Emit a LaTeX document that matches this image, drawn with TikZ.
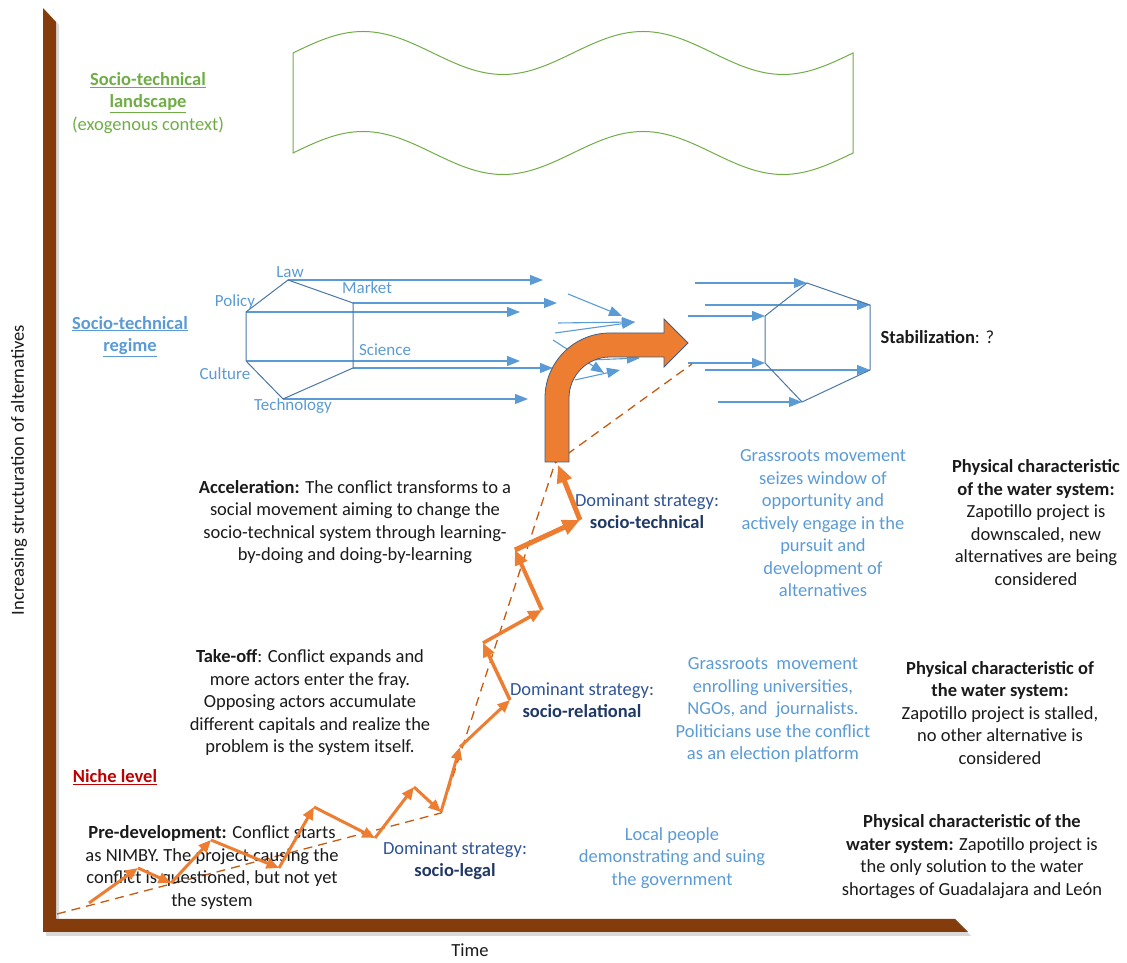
\documentclass[tikz,border=0pt]{standalone}
\usepackage{fontspec}
\setmainfont{Carlito}
\usepackage{tikz}
\usetikzlibrary{arrows.meta,positioning,calc}
\definecolor{axisbrown}{HTML}{843C0C}
\definecolor{landgreen}{HTML}{70AD47}
\definecolor{regblue}{HTML}{5B9BD5}
\definecolor{hexblue}{HTML}{4A76A8}
\definecolor{shiftorange}{HTML}{ED7D31}
\definecolor{trendorange}{HTML}{C55A11}
\definecolor{stratblue}{HTML}{2F5496}
\definecolor{stratdark}{HTML}{1F3864}
\definecolor{nichered}{HTML}{C00000}
\definecolor{bodytext}{HTML}{1A1A1A}
\tikzset{
    axis bar/.style={fill=axisbrown},
    axis shadow/.style={fill=black,opacity=.15},
    landscape color/.style={text=landgreen},
    regime color/.style={text=regblue},
    landscape line/.style={draw=landgreen,line width=1pt},
    hexline/.style={draw=hexblue,line width=1pt},
    regarr/.style={draw=regblue,line width=1.1pt,-{Triangle[length=13pt,width=10pt]}},
    zig/.style={draw=shiftorange,line width=#1,-{Triangle[length=5pt 2.5,width=4pt 2.2]}},
    zig/.default=3pt,
    trend/.style={draw=trendorange,line width=1.3pt,dash pattern=on 9pt off 6pt},
    bent arrow/.style={fill=shiftorange,draw=hexblue!80!black,line width=.8pt},
    body text/.style={align=center,text=bodytext},
    strategy/.style={align=center,text=stratblue},
    actor text/.style={align=center,text=regblue},
    vertex label/.style={text=regblue,font=\fontsize{17}{19}\selectfont},
}
\tikzstyle{every node}=[font=\fontsize{18.5}{22.5}\selectfont]

\begin{document}
\begin{tikzpicture}[x=1pt,y=1pt]
    \useasboundingbox (0,0) rectangle (1127,963);

    % axes
    \fill[axis shadow] (46,27) -- (46,952) -- (59,938) -- (59,40) -- (958,40) -- (971,27) -- cycle;
    \fill[axis bar] (43,31) -- (43,955) -- (56,941) -- (56,44) -- (955,44) -- (968,31) -- cycle;
    \node[rotate=90,text=bodytext] (ylabel) at (19,493) {Increasing structuration of alternatives};
    \node[text=bodytext] (timelabel) at (470,13) {Time};

    % landscape
    \draw[landscape line] (293,910) sin (363,931.5) cos (433,910) sin (503,888.5) cos (573,910)
        sin (643,931.5) cos (713,910) sin (783,888.5) cos (853,910) -- (853,810)
        sin (783,788.5) cos (713,810) sin (643,831.5) cos (573,810)
        sin (503,788.5) cos (433,810) sin (363,831.5) cos (293,810) -- cycle;
    \node[landscape color,align=center] (landscape) at (148,860)
        {\textbf{\underline{Socio-technical}}\\\textbf{\underline{landscape}}\\(exogenous context)};

    % regime
    \node[regime color,align=center] (regime) at (130,626.5)
        {\textbf{\underline{Socio-technical}}\\\textbf{\underline{regime}}};

    \coordinate (law) at (288,683);
    \coordinate (market) at (353,660);
    \coordinate (science) at (353,595);
    \coordinate (technology) at (283,564);
    \coordinate (culture) at (246,602);
    \coordinate (policy) at (246,651);
    \coordinate (law end) at (543,683);
    \coordinate (market end) at (557,660);
    \coordinate (policy end) at (520,651);
    \coordinate (culture end) at (520,602);
    \coordinate (science end) at (553,595);
    \coordinate (technology end) at (528,564);

    \draw[regarr] (law) -- (law end);
    \draw[regarr] (market) -- (market end);
    \draw[regarr] (policy) -- (policy end);
    \draw[regarr] (culture) -- (culture end);
    \draw[regarr] (science) -- (science end);
    \draw[regarr] (technology) -- (technology end);
    \draw[hexline] (law) -- (market) -- (science) -- (technology) -- (culture) -- (policy) -- cycle;

    \node[vertex label] (lbl law) at (290,691) {Law};
    \node[vertex label] (lbl market) at (367,675) {Market};
    \node[vertex label] (lbl policy) at (235,661) {Policy};
    \node[vertex label] (lbl science) at (385,613) {Science};
    \node[vertex label] (lbl culture) at (225,589) {Culture};
    \node[vertex label] (lbl technology) at (293,557) {Technology};

    % loose arrows in the window of opportunity
    \coordinate (w1) at (568,669);
    \coordinate (w1 end) at (622,647);
    \coordinate (w2) at (555,630);
    \coordinate (w2 end) at (635,641);
    \coordinate (w3) at (558,640);
    \coordinate (w4) at (553,623);
    \coordinate (w4 end) at (604,590);
    \coordinate (w5) at (575,583);
    \coordinate (w5 end) at (620,593);
    \coordinate (w6) at (590,603);
    \coordinate (w6 end) at (640,605);
    \draw[regarr] (w1) -- (w1 end);
    \draw[regarr] (w2) -- (w2 end);
    \draw[regarr] (w3) -- (w2 end);
    \draw[regarr] (w4) -- (w4 end);
    \draw[regarr] (w5) -- (w5 end);
    \draw[regarr] (w6) -- (w6 end);

    % new regime
    \coordinate (tl) at (807,680);
    \coordinate (tr) at (870,658);
    \coordinate (rb) at (870,593);
    \coordinate (bt) at (802,561);
    \coordinate (lb) at (765,600);
    \coordinate (lt) at (765,647);
    \coordinate (tl start) at (695,680);
    \coordinate (tr start) at (705,658);
    \coordinate (lt start) at (688,647);
    \coordinate (lb start) at (688,600);
    \coordinate (rb start) at (705,593);
    \coordinate (bt start) at (718,561);
    \draw[regarr] (tl start) -- (tl);
    \draw[regarr] (tr start) -- (tr);
    \draw[regarr] (lt start) -- (lt);
    \draw[regarr] (lb start) -- (lb);
    \draw[regarr] (rb start) -- (rb);
    \draw[regarr] (bt start) -- (bt);
    \draw[hexline] (tl) -- (tr) -- (rb) -- (bt) -- (lb) -- (lt) -- cycle;
    \node[anchor=west,text=bodytext] (stab) at (877,626) {\textbf{Stabilization}: ?};

    % trend line
    \coordinate (t0) at (57,49);
    \coordinate (t1) at (441,150);
    \coordinate (t2) at (555,500);
    \coordinate (t3) at (692,599);
    \draw[trend] (t0) -- (t1) -- (t2) -- (t3);

    % texts
    \node[text=nichered] (niche) at (115,186) {\textbf{\underline{Niche level}}};
    \node[body text] (predev) at (212,95.5)
        {\textbf{Pre-development:} Conflict starts\\as NIMBY. The project causing the\\conflict is questioned, but not yet\\the system};
    \node[strategy] (legal) at (455,102.5) {Dominant strategy:\\\textcolor{stratdark}{\textbf{socio-legal}}};
    \node[actor text] (locals) at (672,105) {Local people\\demonstrating and suing\\the government};
    \node[body text] (phys low) at (972,106.5)
        {\textbf{Physical characteristic of the}\\\textbf{water system:} Zapotillo project is\\the only solution to the water\\shortages of Guadalajara and León};

    \node[body text] (takeoff) at (310,260.5)
        {\textbf{Take-off}: Conflict expands and\\more actors enter the fray.\\Opposing actors accumulate\\different capitals and realize the\\problem is the system itself.};
    \node[strategy] (relational) at (582,263) {Dominant strategy:\\\textcolor{stratdark}{\textbf{socio-relational}}};
    \node[actor text] (grass mid) at (773,253)
        {Grassroots\ \ movement\\enrolling universities,\\NGOs, and\ \ journalists.\\Politicians use the conflict\\as an election platform};
    \node[body text] (phys mid) at (1000,250)
        {\textbf{Physical characteristic of}\\\textbf{the water system:}\\Zapotillo project is stalled,\\no other alternative is\\considered};

    \node[body text] (accel) at (355,441)
        {\textbf{Acceleration:} The conflict transforms to a\\social movement aiming to change the\\socio-technical system through learning-\\by-doing and doing-by-learning};
    \node[strategy] (technical) at (647,452) {Dominant strategy:\\\textcolor{stratdark}{\textbf{socio-technical}}};
    \node[actor text] (grass top) at (823,439.5)
        {Grassroots movement\\seizes window of\\opportunity and\\actively engage in the\\pursuit and\\development of\\alternatives};
    \node[body text] (phys top) at (1036,440.5)
        {\textbf{Physical characteristic}\\\textbf{of the water system:}\\Zapotillo project is\\downscaled, new\\alternatives are being\\considered};

    % zigzag of the conflict
    \coordinate (z0) at (89,60);
    \coordinate (z1) at (138,95);
    \coordinate (z2) at (171,80);
    \coordinate (z3) at (211,123);
    \coordinate (z4) at (279,95);
    \coordinate (z5) at (314,156);
    \coordinate (z6) at (375,125);
    \coordinate (z7) at (414,176);
    \coordinate (z8) at (441,151);
    \coordinate (z9) at (460,216);
    \coordinate (z10) at (510,263);
    \coordinate (z11) at (483,320);
    \coordinate (z12) at (542,353);
    \coordinate (z13) at (515,413);
    \coordinate (z14) at (580,443);
    \coordinate (z15) at (558,498);
    \draw[zig] (z0) -- (z1);
    \draw[zig] (z1) -- (z2);
    \draw[zig] (z2) -- (z3);
    \draw[zig] (z3) -- (z4);
    \draw[zig] (z4) -- (z5);
    \draw[zig] (z5) -- (z6);
    \draw[zig] (z6) -- (z7);
    \draw[zig] (z7) -- (z8);
    \draw[zig] (z8) -- (z9);
    \draw[zig] (z9) -- (z10);
    \draw[zig=3.5pt] (z10) -- (z11);
    \draw[zig=3.5pt] (z11) -- (z12);
    \draw[zig=4pt] (z12) -- (z13);
    \draw[zig=5pt] (z13) -- (z14);
    \draw[zig=5pt] (z14) -- (z15);

    % the shift into the regime
    \draw[bent arrow] (545,501) -- (545,565) arc[start angle=180,end angle=90,radius=65]
        -- (664,630) -- (664,644) -- (688,620) -- (664,596) -- (664,606) -- (610,606)
        arc[start angle=90,end angle=180,radius=41] -- (569,501) -- cycle;
\end{tikzpicture}
\end{document}
